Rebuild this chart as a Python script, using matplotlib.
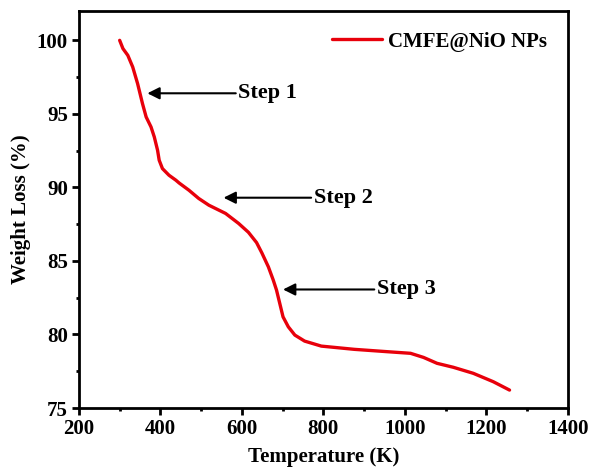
import matplotlib
matplotlib.use('Agg')
import matplotlib.pyplot as plt
from matplotlib.ticker import MultipleLocator

# TGA curve
temp = [300, 308, 320, 332, 344, 356, 365, 377, 385, 393, 397, 405, 421, 438, 446, 470,
        494, 519, 560, 592, 616, 636, 649, 665, 677, 685, 693, 701, 714, 730, 754, 795,
        876, 957, 1014, 1046, 1079, 1119, 1168, 1217, 1257]
weight = [100.0, 99.44, 98.98, 98.19, 97.06, 95.70, 94.79, 94.11, 93.43, 92.53, 91.85,
          91.28, 90.83, 90.49, 90.30, 89.81, 89.25, 88.79, 88.23, 87.55, 86.95, 86.25,
          85.55, 84.60, 83.70, 83.02, 82.11, 81.20, 80.52, 79.96, 79.55, 79.21, 78.99,
          78.83, 78.72, 78.44, 78.04, 77.77, 77.36, 76.79, 76.22]

step_labels = ['Step 1', 'Step 2', 'Step 3']
step_tip = [(368, 96.4), (555, 89.3), (701, 83.06)]
step_tail = [(585, 96.4), (770, 89.3), (925, 83.06)]

plt.rcParams['font.family'] = 'Liberation Serif'
plt.rcParams['font.weight'] = 'bold'

fig = plt.figure(figsize=(5.89, 4.75), dpi=100)
ax = fig.add_axes([0.134, 0.141, 0.83, 0.836])
ax.plot(temp, weight, color='#e8000b', lw=2.4, label='CMFE@NiO NPs',
        solid_joinstyle='round', solid_capstyle='round')

for lbl, tip, tail in zip(step_labels, step_tip, step_tail):
    ax.annotate('', xy=tip, xytext=tail,
                arrowprops=dict(arrowstyle='-|>', color='black', lw=1.5, mutation_scale=18,
                                shrinkA=0, shrinkB=0))
    ax.text(tail[0] + 6, tail[1], lbl, fontsize=16, fontweight='bold', va='center', ha='left')

ax.set_xlim(200, 1400); ax.set_ylim(75, 102)
ax.xaxis.set_major_locator(MultipleLocator(200)); ax.xaxis.set_minor_locator(MultipleLocator(100))
ax.yaxis.set_major_locator(MultipleLocator(5)); ax.yaxis.set_minor_locator(MultipleLocator(2.5))
ax.tick_params(which='major', direction='out', length=5, width=2, labelsize=15, pad=3)
ax.tick_params(which='minor', direction='out', length=2.5, width=2)
for s in ax.spines.values():
    s.set_linewidth(2)
ax.set_xlabel('Temperature (K)', fontsize=15, fontweight='bold', labelpad=6)
ax.set_ylabel('Weight Loss (%)', fontsize=15, fontweight='bold')
ax.legend(loc='upper right', frameon=False, fontsize=15, handlelength=2.4, handletextpad=0.3,
          borderaxespad=0.6)
fig.savefig('out.png', dpi=100)
